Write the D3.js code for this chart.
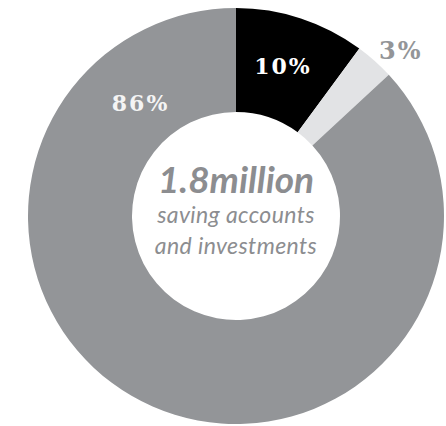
<!DOCTYPE html>
<html>
<head>
<meta charset="utf-8">
<script src="https://cdn.jsdelivr.net/npm/d3@7"></script>
<style>
  body { margin: 0; background: #fff; }
  svg { display: block; }
</style>
</head>
<body>
<div id="chart"></div>
<script>
// slices, clockwise from 12 o'clock
var categories = ['Black', 'Light', 'Grey'],
    values = [10, 3, 86],
    labels = ['10%', '3%', '86%'],
    centerLines = ['1.8million', 'saving accounts', 'and investments'];

var width = 446,
    height = 426,
    cx = 236,
    cy = 216,
    outerR = 208,
    innerR = 104;

var colour = d3.scaleOrdinal()
    .domain(categories)
    .range(['#000000', '#e2e3e5', '#939598']);

var svg = d3.select('#chart').append('svg')
    .attr('width', width)
    .attr('height', height);

var g = svg.append('g')
    .attr('transform', 'translate(' + cx + ',' + cy + ')');

var pie = d3.pie().sort(null).value(function (d) { return d; });
var arcs = pie(values);

var arc = d3.arc().innerRadius(innerR).outerRadius(outerR);

g.selectAll('path.slice')
    .data(arcs)
    .enter().append('path')
    .attr('class', 'slice')
    .attr('d', arc)
    .attr('fill', function (d, i) { return colour(categories[i]); });

// label placement: radius and angle nudge (radians) per slice;
// the big slice's label sits up in its top-left part
var labelR = [157, 233, 148];
var labelNudge = [-0.02, 0.05, 0];
var labelFill = ['#ffffff', '#939598', '#f4f4f4'];
var labelSize = ['22px', '24px', '22px'];

function labelPos(d, i) {
    var a = (d.startAngle + d.endAngle) / 2 + labelNudge[i];
    if (i === 2) a = d.endAngle - 0.71;
    return [Math.sin(a) * labelR[i] + 1, -Math.cos(a) * labelR[i]];
}

g.selectAll('text.pct')
    .data(arcs)
    .enter().append('text')
    .attr('class', 'pct')
    .attr('x', function (d, i) { return labelPos(d, i)[0]; })
    .attr('y', function (d, i) { return labelPos(d, i)[1]; })
    .attr('dy', '0.35em')
    .attr('text-anchor', 'middle')
    .style('font-family', '"DejaVu Serif", serif')
    .style('font-weight', 'bold')
    .style('font-size', function (d, i) { return labelSize[i]; })
    .style('letter-spacing', '2px')
    .attr('fill', function (d, i) { return labelFill[i]; })
    .text(function (d, i) { return labels[i]; });

// centre caption
var caption = g.append('text')
    .attr('text-anchor', 'middle')
    .style('font-family', 'Lato, sans-serif')
    .style('font-style', 'italic')
    .attr('fill', '#8c8d90');

caption.append('tspan')
    .attr('x', 0).attr('y', -23)
    .style('font-weight', 'bold')
    .style('font-size', '37px')
    .text(centerLines[0]);

caption.append('tspan')
    .attr('x', 0).attr('y', 7)
    .style('font-size', '23px')
    .style('letter-spacing', '0.4px')
    .text(centerLines[1]);

caption.append('tspan')
    .attr('x', 0).attr('y', 38)
    .style('font-size', '23px')
    .style('letter-spacing', '0.4px')
    .text(centerLines[2]);
</script>
</body>
</html>
